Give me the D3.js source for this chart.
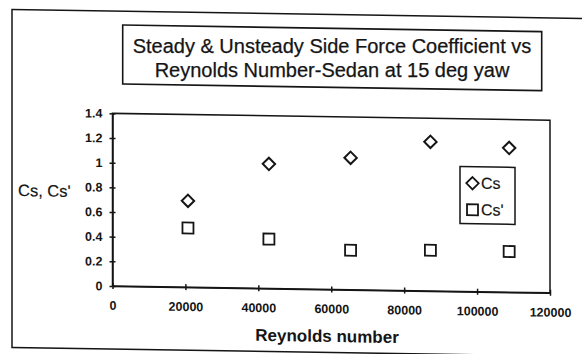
<!DOCTYPE html>
<html>
<head>
<meta charset="utf-8">
<script src="https://cdn.jsdelivr.net/npm/d3@7"></script>
<style>
  html, body { margin: 0; padding: 0; background: #fff; }
  svg { display: block; }
</style>
</head>
<body>
<script>
// ---- data ----
const titleLines = ["Steady & Unsteady Side Force Coefficient vs", "Reynolds Number-Sedan at 15 deg yaw"];
const reynolds = [20700, 42900, 65300, 87200, 108800];
const cs = [0.70, 1.01, 1.07, 1.21, 1.17];
const csPrime = [0.48, 0.40, 0.32, 0.33, 0.33];
const seriesNames = ["Cs", "Cs'"];
const xTicks = [0, 20000, 40000, 60000, 80000, 100000, 120000];
const xTickLabels = ["0", "20000", "40000", "60000", "80000", "100000", "120000"];
const yTicks = [0, 0.2, 0.4, 0.6, 0.8, 1, 1.2, 1.4];
const yTickLabels = ["0", "0.2", "0.4", "0.6", "0.8", "1", "1.2", "1.4"];
const xTitle = "Reynolds number";
const yTitle = "Cs, Cs'";

const W = 582, H = 354;
const ink = "#151515";
const font = "'Liberation Sans', Arial, sans-serif";

const svg = d3.select("body").append("svg").attr("width", W).attr("height", H);
svg.append("rect").attr("width", W).attr("height", H).attr("fill", "#fff");

// slight scan skew
const g = svg.append("g").attr("transform", "translate(331,0) skewY(0.9) translate(-331,0)");

// outer frame
g.append("rect").attr("x", 12).attr("y", 14.5).attr("width", 600).attr("height", 338)
  .attr("fill", "none").attr("stroke", ink).attr("stroke-width", 1.5);

// title box
g.append("rect").attr("x", 122.7).attr("y", 28.3).attr("width", 419).attr("height", 59)
  .attr("fill", "#fff").attr("stroke", ink).attr("stroke-width", 1.6);
// title text (not skewed, centred at the skew pivot so position is unchanged)
svg.append("g").selectAll("text").data(titleLines).join("text")
  .attr("x", 332).attr("y", (d, i) => 52.5 + i * 24.8)
  .attr("text-anchor", "middle").attr("font-family", font).attr("font-size", 20)
  .attr("fill", ink).attr("stroke", ink).attr("stroke-width", 0.25)
  .text(d => d);

// scales
const plot = { left: 112.5, right: 550, top: 116.8, bottom: 289.4 };
const x = d3.scaleLinear().domain([0, 120000]).range([plot.left, plot.right]);
const y = d3.scaleLinear().domain([0, 1.4]).range([plot.bottom, plot.top]);

// plot area border
g.append("rect").attr("x", plot.left).attr("y", plot.top)
  .attr("width", plot.right - plot.left).attr("height", plot.bottom - plot.top)
  .attr("fill", "none").attr("stroke", ink).attr("stroke-width", 1.5);

// axes
const xAxis = d3.axisBottom(x).tickValues(xTicks)
  .tickFormat((d, i) => xTickLabels[i]).tickSize(3).tickPadding(12).tickSizeOuter(0);
const gx = g.append("g").attr("transform", `translate(0,${plot.bottom})`).call(xAxis);
gx.select(".domain").attr("stroke", ink).attr("stroke-width", 1.5);
gx.selectAll(".tick line").attr("y1", -3).attr("y2", 3).attr("stroke", ink).attr("stroke-width", 1.5);
gx.selectAll(".tick text").attr("font-family", font).attr("font-size", 12.5)
  .attr("font-weight", "bold").attr("fill", ink);

const yAxis = d3.axisLeft(y).tickValues(yTicks)
  .tickFormat((d, i) => yTickLabels[i]).tickSize(3).tickPadding(7).tickSizeOuter(0);
const gy = g.append("g").attr("transform", `translate(${plot.left},0)`).call(yAxis);
gy.select(".domain").attr("stroke", ink).attr("stroke-width", 1.5);
gy.selectAll(".tick line").attr("x1", -3).attr("x2", 3).attr("stroke", ink).attr("stroke-width", 1.5);
gy.selectAll(".tick text").attr("font-family", font).attr("font-size", 12.5)
  .attr("font-weight", "bold").attr("fill", ink);

// axis titles
g.append("text").attr("x", 327).attr("y", 342).attr("text-anchor", "middle")
  .attr("font-family", font).attr("font-size", 17).attr("font-weight", "bold")
  .attr("fill", ink).text(xTitle);
g.append("text").attr("x", 18).attr("y", 201).attr("text-anchor", "start")
  .attr("font-family", font).attr("font-size", 16.5).attr("fill", ink)
  .attr("stroke", ink).attr("stroke-width", 0.2).text(yTitle);

// markers
const diamondPath = "M0,-6.2L6.2,0L0,6.2L-6.2,0Z";
const squarePath = "M-5.5,-5.5H5.5V5.5H-5.5Z";

const pts = reynolds.map((r, i) => ({ r, cs: cs[i], cp: csPrime[i] }));
g.append("g").selectAll("path").data(pts).join("path")
  .attr("d", diamondPath)
  .attr("transform", d => `translate(${x(d.r)},${y(d.cs)})`)
  .attr("fill", "none").attr("stroke", ink).attr("stroke-width", 2);
g.append("g").selectAll("path").data(pts).join("path")
  .attr("d", squarePath)
  .attr("transform", d => `translate(${x(d.r)},${y(d.cp)})`)
  .attr("fill", "none").attr("stroke", ink).attr("stroke-width", 1.8);

// legend
const lg = g.append("g");
lg.append("rect").attr("x", 460).attr("y", 164.5).attr("width", 55).attr("height", 57)
  .attr("fill", "#fff").attr("stroke", ink).attr("stroke-width", 1.5);
const legendItems = [
  { name: seriesNames[0], path: diamondPath, cy: 181 },
  { name: seriesNames[1], path: squarePath, cy: 207.6 }
];
lg.selectAll("path").data(legendItems).join("path")
  .attr("d", d => d.path)
  .attr("transform", d => `translate(472.5,${d.cy})`)
  .attr("fill", "none").attr("stroke", ink).attr("stroke-width", 1.8);
lg.selectAll("text").data(legendItems).join("text")
  .attr("x", 481).attr("y", d => d.cy + 5.3)
  .attr("font-family", font).attr("font-size", 16).attr("fill", ink)
  .attr("stroke", ink).attr("stroke-width", 0.2)
  .text(d => d.name);
</script>
</body>
</html>
